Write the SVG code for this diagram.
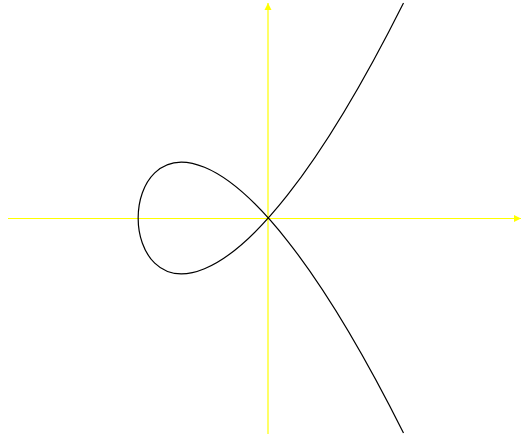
<svg xmlns="http://www.w3.org/2000/svg" width="522" height="437" viewBox="0 0 522 437">
<defs>
<marker id="ah" viewBox="0 0 8 8" refX="7" refY="4" markerWidth="8" markerHeight="8" markerUnits="userSpaceOnUse" orient="auto">
<path d="M0,0.5 L7,4 L0,7.5 Z" fill="#ffff00"/>
</marker>
<style>.axis{stroke:#ffff00;stroke-width:1.2;fill:none}.curve{stroke:#000;stroke-width:1.2;fill:none}</style>
</defs>
<rect width="522" height="437" fill="#fff"/>
<g id="connectors">
<line class="axis" x1="8" y1="218.5" x2="521" y2="218.5" marker-end="url(#ah)"/>
<line class="axis" x1="268" y1="434" x2="268" y2="3" marker-end="url(#ah)"/>
</g>
<g id="curve">
<path class="curve" d="M403.5,433 C49.7,-273 49.7,709 403.5,3"/>
</g>
</svg>
